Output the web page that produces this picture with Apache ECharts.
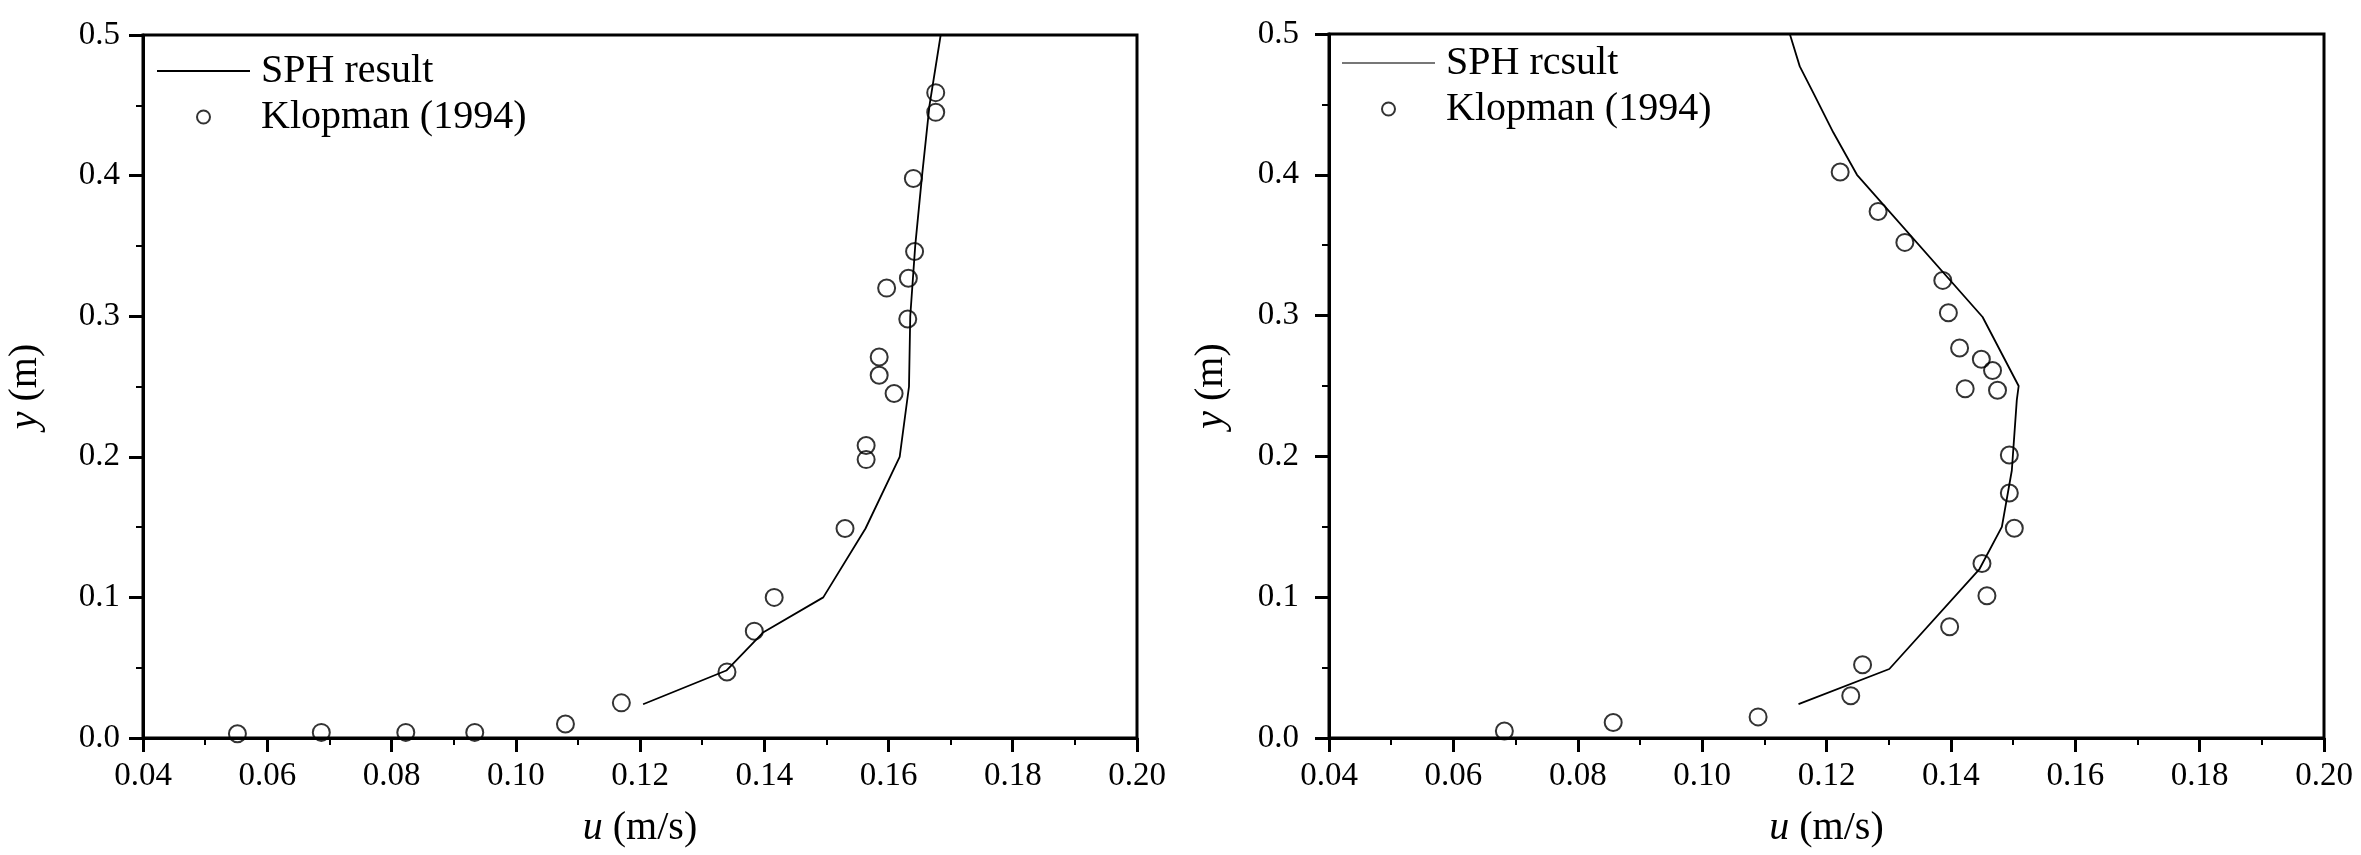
<!DOCTYPE html>
<html>
<head>
<meta charset="utf-8">
<title>SPH vs Klopman (1994)</title>
<script src="https://cdn.jsdelivr.net/npm/echarts@6/dist/echarts.min.js"></script>
<style>
  html, body { margin: 0; padding: 0; background: #fff; }
  #chart { width: 2361px; height: 855px; }
</style>
</head>
<body>
<div id="chart"></div>
<script type="text/javascript">
// ---- data: [u (m/s), y (m)] ----
// left panel
var leftSph = [
  [0.1205, 0.024], [0.1339, 0.048], [0.1398, 0.075], [0.1495, 0.100],
  [0.1563, 0.149], [0.1618, 0.200], [0.1633, 0.250], [0.1635, 0.300],
  [0.1643, 0.350], [0.1654, 0.400], [0.1666, 0.450], [0.1684, 0.500]
];
var leftKlopman = [
  [0.0552, 0.003], [0.0687, 0.004], [0.0823, 0.004], [0.0934, 0.004],
  [0.1080, 0.010], [0.1170, 0.025], [0.1340, 0.047], [0.1384, 0.076],
  [0.1416, 0.100], [0.1530, 0.149], [0.1564, 0.198], [0.1564, 0.208],
  [0.1609, 0.245], [0.1585, 0.258], [0.1585, 0.271], [0.1631, 0.298],
  [0.1597, 0.320], [0.1632, 0.327], [0.1642, 0.346], [0.1640, 0.398],
  [0.1676, 0.445], [0.1676, 0.459]
];
// right panel
var rightSph = [
  [0.1155, 0.024], [0.1301, 0.049], [0.1446, 0.120], [0.1482, 0.150],
  [0.1498, 0.190], [0.1506, 0.240], [0.1509, 0.250], [0.1451, 0.299],
  [0.1249, 0.400], [0.1211, 0.430], [0.1179, 0.458], [0.1157, 0.477],
  [0.1141, 0.500]
];
var rightKlopman = [
  [0.0682, 0.005], [0.0857, 0.011], [0.1090, 0.015], [0.1239, 0.030],
  [0.1258, 0.052], [0.1398, 0.079], [0.1458, 0.101], [0.1450, 0.124],
  [0.1502, 0.149], [0.1494, 0.174], [0.1494, 0.201], [0.1475, 0.247],
  [0.1423, 0.248], [0.1467, 0.261], [0.1449, 0.269], [0.1414, 0.277],
  [0.1396, 0.302], [0.1387, 0.325], [0.1326, 0.352], [0.1283, 0.374],
  [0.1222, 0.402]
];
var leftNames = ['SPH result', 'Klopman (1994)'];
var rightNames = ['SPH rcsult', 'Klopman (1994)'];
var xName = '{i|u} (m/s)';
var yName = '{i|y} (m)';

var FONT = '"Liberation Serif", "Times New Roman", serif';
// flat bar used as the legend icon of the line series
var LINE_ICON = 'path://M0,0 L100,0 L100,2 L0,2 Z';

var myChart = echarts.init(document.getElementById('chart'));

// shared axis pieces
function xAxisOf(gridIndex) {
  return {
    type: 'value', gridIndex: gridIndex,
    min: 0.04, max: 0.20, interval: 0.02,
    name: xName, nameLocation: 'middle', nameGap: 70,
    nameTextStyle: {
      fontFamily: FONT, fontSize: 40, color: '#000',
      rich: { i: { fontFamily: FONT, fontSize: 40, fontStyle: 'italic', color: '#000' } }
    },
    axisLine: { onZero: false, lineStyle: { color: '#000', width: 3 } },
    axisTick: { inside: false, length: 14, lineStyle: { color: '#000', width: 3 } },
    minorTick: { show: true, splitNumber: 2, length: 7, lineStyle: { color: '#000', width: 2 } },
    splitLine: { show: false },
    axisLabel: {
      fontFamily: FONT, fontSize: 33, color: '#000', margin: 22,
      formatter: function (v) { return v.toFixed(2); }
    }
  };
}
function yAxisOf(gridIndex, labelMargin, labelPad) {
  return {
    type: 'value', gridIndex: gridIndex,
    min: 0, max: 0.5, interval: 0.1,
    name: yName, nameLocation: 'middle', nameGap: 98,
    nameTextStyle: {
      fontFamily: FONT, fontSize: 40, color: '#000',
      rich: { i: { fontFamily: FONT, fontSize: 40, fontStyle: 'italic', color: '#000' } }
    },
    axisLine: { onZero: false, lineStyle: { color: '#000', width: 3 } },
    axisTick: { inside: false, length: 14, lineStyle: { color: '#000', width: 3 } },
    minorTick: { show: true, splitNumber: 2, length: 7, lineStyle: { color: '#000', width: 2 } },
    splitLine: { show: false },
    axisLabel: {
      fontFamily: FONT, fontSize: 33, color: '#000', margin: labelMargin,
      padding: labelPad,
      formatter: function (v) { return v.toFixed(1); }
    }
  };
}
function legendOf(left, top, names, lineColor) {
  return {
    orient: 'vertical', left: left, top: top, padding: 0,
    itemWidth: 93, itemHeight: 13, itemGap: 6,
    selectedMode: false,
    textStyle: { fontFamily: FONT, fontSize: 40, lineHeight: 40, color: '#000', padding: [0, 0, 0, 6] },
    data: [
      { name: names[0], icon: LINE_ICON, itemStyle: { color: lineColor, borderWidth: 0 } },
      { name: names[1], icon: 'circle', itemStyle: { color: 'rgba(0,0,0,0)', borderColor: '#000', borderWidth: 2 } }
    ]
  };
}
var circleStyle = { color: 'rgba(0,0,0,0)', borderColor: '#000', borderWidth: 2 };

myChart.setOption({
  backgroundColor: '#fff',
  animation: false,
  grid: [
    { left: 143, top: 35, width: 994, height: 703, show: true, borderColor: '#000', borderWidth: 3, backgroundColor: 'transparent' },
    { left: 1329, top: 34, width: 995, height: 704, show: true, borderColor: '#000', borderWidth: 3, backgroundColor: 'transparent' }
  ],
  legend: [
    legendOf(157, 51, leftNames, '#000'),
    legendOf(1342, 43, rightNames, '#777')
  ],
  xAxis: [xAxisOf(0), xAxisOf(1)],
  yAxis: [yAxisOf(0, 23, 0), yAxisOf(1, 30, [0, 0, 24, 0])],
  series: [
    {
      name: leftNames[0], type: 'line', xAxisIndex: 0, yAxisIndex: 0,
      data: leftSph, symbol: 'none', itemStyle: { color: '#000' },
      lineStyle: { color: '#000', width: 1.8 }
    },
    {
      name: leftNames[1], type: 'scatter', xAxisIndex: 0, yAxisIndex: 0,
      data: leftKlopman, symbol: 'circle', symbolSize: 17, itemStyle: circleStyle
    },
    {
      name: rightNames[0], type: 'line', xAxisIndex: 1, yAxisIndex: 1,
      data: rightSph, symbol: 'none', itemStyle: { color: '#000' },
      lineStyle: { color: '#000', width: 1.8 }
    },
    {
      name: rightNames[1], type: 'scatter', xAxisIndex: 1, yAxisIndex: 1,
      data: rightKlopman, symbol: 'circle', symbolSize: 17, itemStyle: circleStyle
    }
  ]
});
</script>
</body>
</html>
